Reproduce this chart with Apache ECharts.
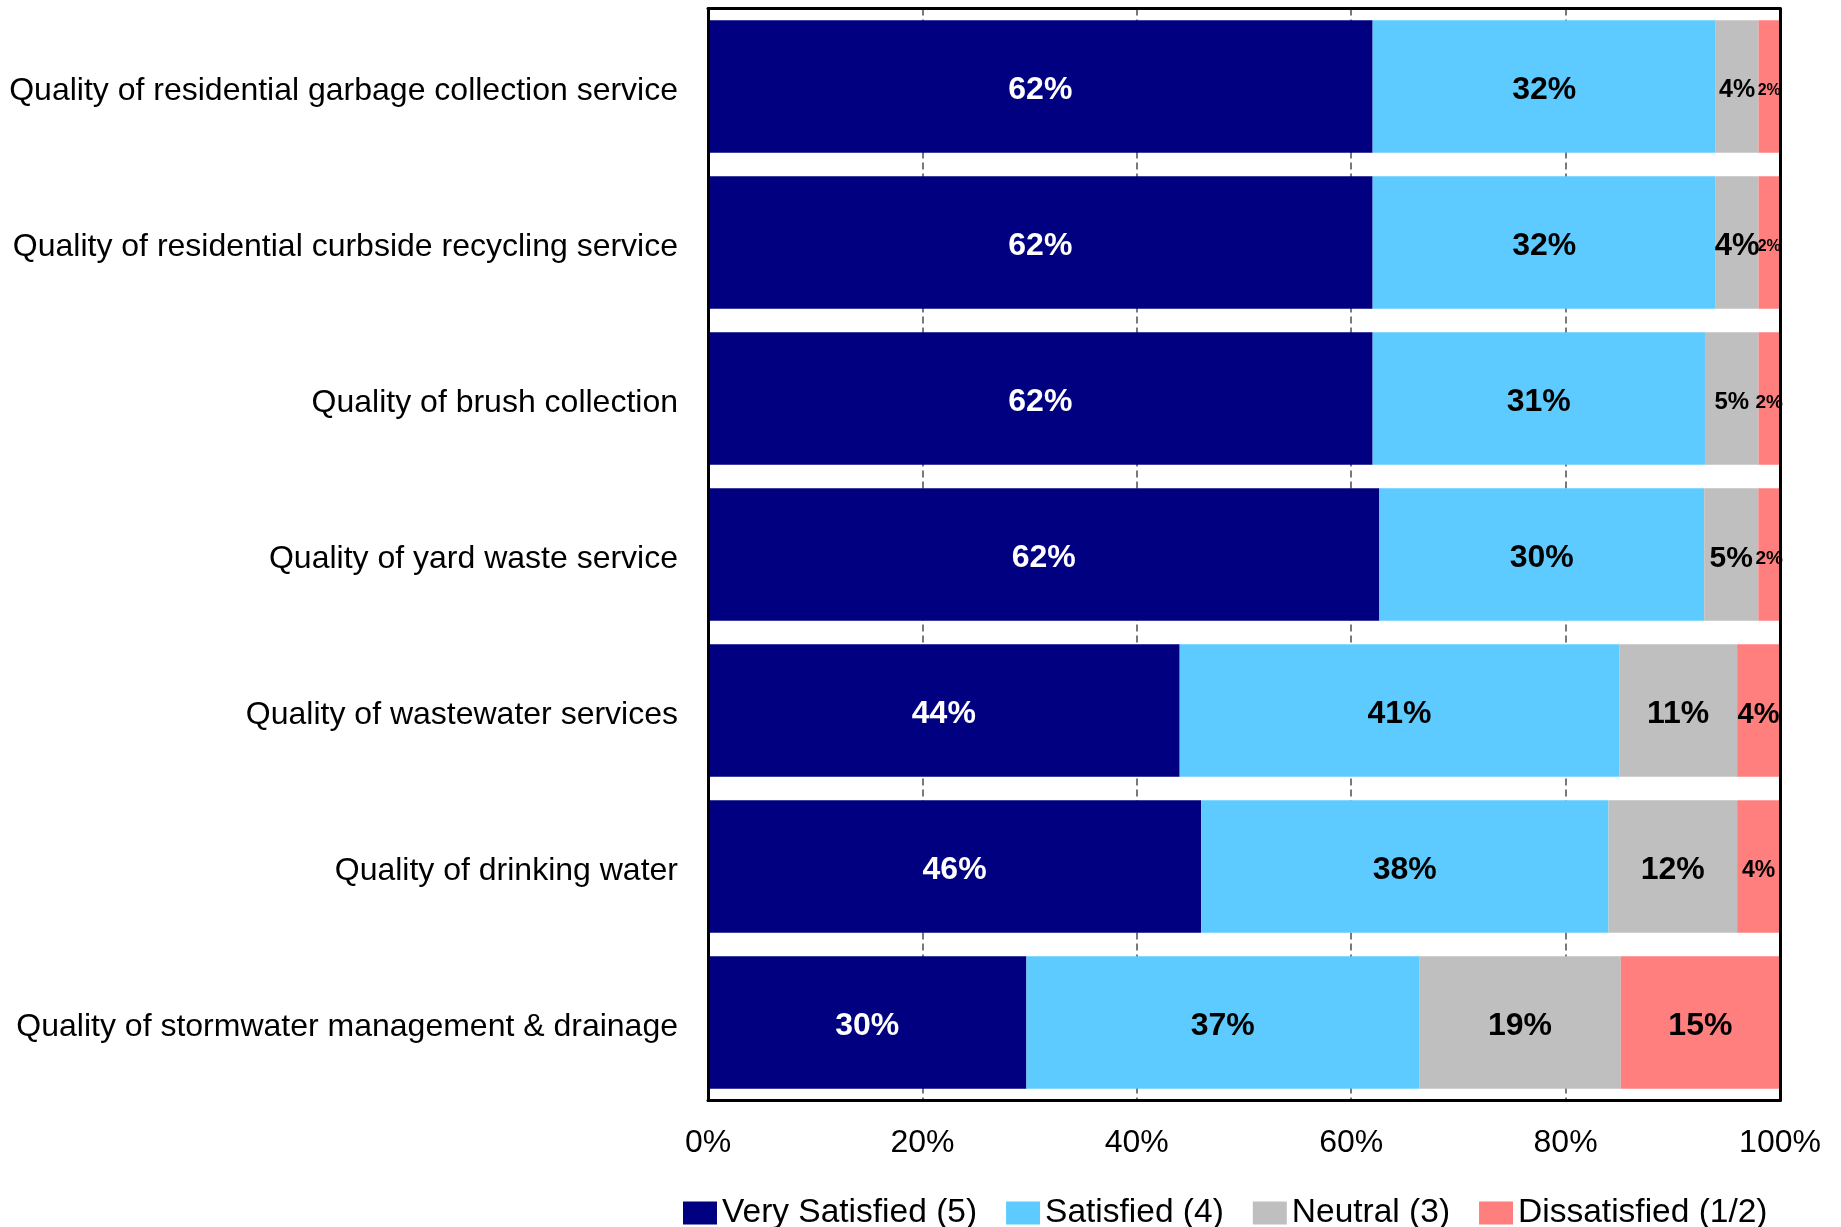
<!DOCTYPE html>
<html>
<head>
<meta charset="utf-8">
<title>Satisfaction with utility services</title>
<script src="https://cdn.jsdelivr.net/npm/echarts@6/dist/echarts.min.js"></script>
<style>
  html, body { margin: 0; padding: 0; background: #fff; }
  #chart { width: 1841px; height: 1227px; }
</style>
</head>
<body>
<div id="chart"></div>
<script>
// Survey items, top to bottom
const categories = [
  'Quality of residential garbage collection service',
  'Quality of residential curbside recycling service',
  'Quality of brush collection',
  'Quality of yard waste service',
  'Quality of wastewater services',
  'Quality of drinking water',
  'Quality of stormwater management & drainage'
];

// Response shares (%) per item
const verySatisfied = [62, 62, 62, 62, 44, 46, 30];
const satisfied     = [32, 32, 31, 30, 41, 38, 37];
const neutral       = [4, 4, 5, 5, 11, 12, 19];
const dissatisfied  = [2, 2, 2, 2, 4, 4, 15];

const seriesNames = ['Very Satisfied (5)', 'Satisfied (4)', 'Neutral (3)', 'Dissatisfied (1/2)'];
const xTicks = [0, 20, 40, 60, 80, 100];

// Styling
const FONT = '"Liberation Sans", Arial, sans-serif';
const colors = ['#000080', '#5DCBFF', '#BFBFBF', '#FF7F7F'];
const labelColors = ['#ffffff', '#000000', '#000000', '#000000'];
const labelSizes = [
  [32, 32, 32, 32, 32, 32, 32],
  [32, 32, 32, 32, 32, 32, 32],
  [25, 31, 24, 30, 32, 32, 32],
  [16, 16, 19, 19, 29, 23, 32]
];

const groups = [verySatisfied, satisfied, neutral, dissatisfied];
// each row is drawn as a 100% stacked bar
const totals = categories.map((_, i) => groups.reduce((s, g) => s + g[i], 0));

const series = groups.map((vals, k) => ({
  name: seriesNames[k],
  type: 'bar',
  stack: 'share',
  barCategoryGap: '15%',
  itemStyle: { color: colors[k] },
  label: {
    show: true,
    position: 'inside',
    offset: [0, 4],
    color: labelColors[k],
    fontFamily: FONT,
    fontWeight: 'bold',
    formatter: p => vals[p.dataIndex] + '%'
  },
  data: vals.map((v, i) => ({
    value: v / totals[i] * 100,
    label: { fontSize: labelSizes[k][i] }
  }))
}));

const chart = echarts.init(document.getElementById('chart'), null, { renderer: 'canvas' });
chart.setOption({
  animation: false,
  backgroundColor: '#ffffff',
  textStyle: { fontFamily: FONT },
  grid: { left: 708, right: 61, top: 8.5, bottom: 126.5, containLabel: false },
  legend: {
    left: 678,
    top: 1191,
    itemWidth: 34,
    itemHeight: 23,
    itemGap: 29,
    itemStyle: { borderWidth: 0 },
    icon: 'rect',
    textStyle: { fontFamily: FONT, fontSize: 33.5, color: '#000' },
    data: seriesNames
  },
  xAxis: [
    {
      type: 'value',
      position: 'bottom',
      min: xTicks[0],
      max: xTicks[xTicks.length - 1],
      interval: xTicks[1] - xTicks[0],
      axisLine: { show: true, onZero: false, lineStyle: { color: '#000', width: 3 } },
      axisTick: { show: false },
      axisLabel: {
        margin: 27,
        fontSize: 32,
        fontFamily: FONT,
        color: '#000',
        formatter: '{value}%'
      },
      splitLine: {
        show: true,
        lineStyle: { color: '#4d4d4d', width: 1.5, type: [7, 4] }
      }
    },
    {
      type: 'value',
      position: 'top',
      min: 0,
      max: 100,
      axisLine: { show: true, onZero: false, lineStyle: { color: '#000', width: 3 } },
      axisTick: { show: false },
      axisLabel: { show: false },
      splitLine: { show: false }
    }
  ],
  yAxis: [
    {
      type: 'category',
      inverse: true,
      data: categories,
      z: 10,
      axisLine: { show: true, onZero: false, lineStyle: { color: '#000', width: 3 } },
      axisTick: { show: false },
      axisLabel: {
        margin: 30,
        formatter: v => '{t|' + v + '}',
        rich: {
          t: {
            fontSize: 32,
            fontFamily: FONT,
            color: '#000',
            padding: [10, 0, 0, 0]
          }
        }
      }
    },
    {
      type: 'value',
      position: 'right',
      z: 10,
      axisLine: { show: true, onZero: false, lineStyle: { color: '#000', width: 3 } },
      axisTick: { show: false },
      axisLabel: { show: false },
      splitLine: { show: false }
    }
  ],
  series: series
});
</script>
</body>
</html>
